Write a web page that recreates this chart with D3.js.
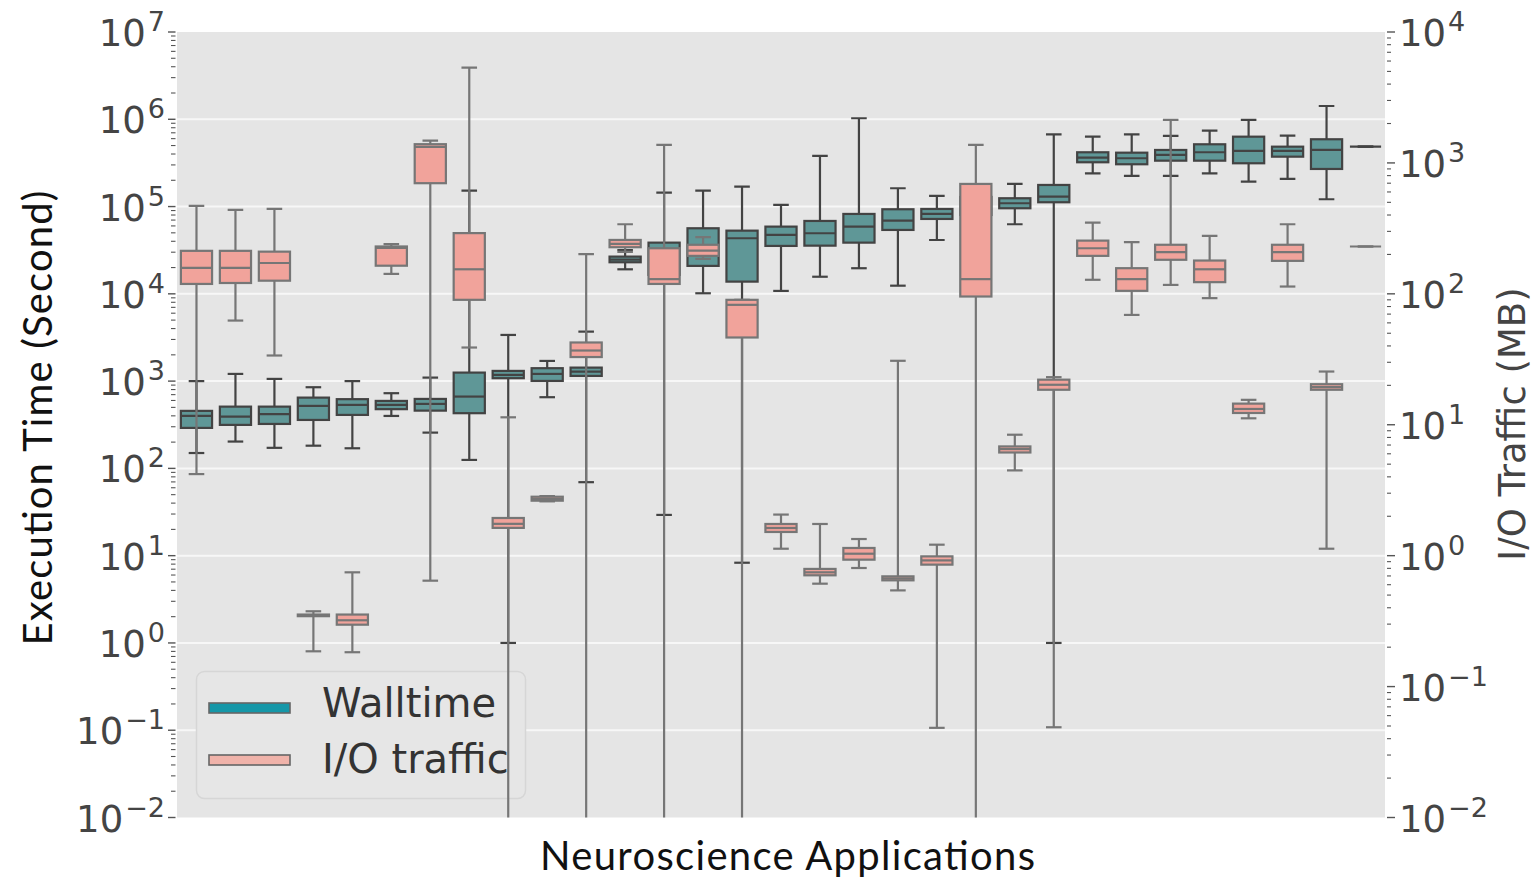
<!DOCTYPE html>
<html><head><meta charset="utf-8">
<script src="https://cdn.jsdelivr.net/npm/d3@7"></script>
<style>body{margin:0;background:#fff;} svg{display:block;}</style>
</head><body><svg id="c" width="1537" height="881"></svg>
<script>
// ---------------- data ----------------
const apps = d3.range(1, 32).map(i => "App " + i);

// Walltime (seconds, left axis): five-number summaries per application
const wallMin = [150, 203, 172, 182, 170, 399, 257, 125, 1.0, 654, 69.5, 19100, 29.3, 10150, 8.3, 10800, 15700, 19650, 12400, 41400, 54000, 62700, 1.0, 240600, 224200, 224200, 240600, 192800, 207200, 121200, 485400];
const wallQ1  = [291, 315, 323, 359, 410, 477, 459, 429, 1080, 1005, 1147, 23000, 16500, 20900, 13800, 35400, 35650, 38600, 53950, 72100, 80100, 95600, 112000, 321700, 305200, 335500, 335500, 313300, 372900, 269600, 485400];
const wallMed = [399, 392, 418, 520, 534, 534, 548, 665, 1178, 1209, 1284, 24650, 23200, 31800, 43350, 47300, 49450, 58900, 68930, 82300, 104000, 109100, 129900, 363100, 357600, 390000, 418800, 433500, 433500, 445000, 485400];
const wallQ3  = [456, 510, 510, 647, 621, 593, 625, 1252, 1309, 1406, 1428, 26700, 38600, 56400, 52960, 58900, 68400, 82300, 93100, 93860, 128800, 124500, 176800, 418800, 414300, 445000, 517100, 632000, 485400, 590200, 485400];
const wallMax = [1000, 1209, 1060, 851, 1000, 727, 1097, 152000, 3381, 1703, 3690, 31800, 144300, 152000, 169000, 104300, 380000, 1027000, 162000, 132200, 163000, 181500, 673000, 632000, 673000, 644000, 740300, 982000, 648600, 1420000, 485400];

// I/O traffic (MB, right axis)
const ioMin = [4.2, 62.5, 33.8, 0.186, 0.183, 142, 0.644, 38.9, 0.001, 2.6, 0.001, 209, 0.001, 185, 0.001, 1.13, 0.611, 0.805, 0.543, 0.0484, 0.001, 4.48, 0.0489, 128, 69, 117, 92.7, 11.2, 113.7, 1.13, 230];
const ioQ1  = [119, 121, 126, 0.345, 0.297, 164, 700, 90, 1.63, 2.63, 32.9, 227, 119, 195, 46.4, 1.517, 0.708, 0.932, 0.648, 0.854, 95.4, 6.14, 18.5, 195, 105.4, 182, 122.8, 12.3, 178.6, 18.5, 230];
const ioMed = [158, 158, 172, 0.35, 0.321, 224, 1325, 154, 1.75, 2.71, 36.9, 241, 129.5, 214, 82.4, 1.627, 0.746, 1.035, 0.67, 0.92, 129.5, 6.52, 20.2, 223, 129.5, 208, 154, 13.2, 208, 19.4, 230];
const ioQ3  = [213, 213, 210, 0.355, 0.355, 230, 1390, 291, 1.94, 2.82, 42.5, 258, 223, 237, 90, 1.746, 0.792, 1.145, 0.695, 0.988, 691, 6.83, 22.1, 255, 157, 237, 179.6, 14.5, 237, 20.4, 230];
const ioMax = [470, 438, 446, 0.376, 0.746, 240, 1480, 5340, 11.4, 2.85, 201, 340, 1372, 271, 90, 2.06, 1.746, 1.34, 30.8, 1.213, 1372, 8.39, 23.1, 350, 248, 2130, 277, 15.5, 340, 25.5, 230];

const leftExps  = [-2, -1, 0, 1, 2, 3, 4, 5, 6, 7];
const rightExps = [-2, -1, 0, 1, 2, 3, 4];
const seriesNames = ["Walltime", "I/O traffic"];
const xTitle = "Neuroscience Applications";
const yLeftTitle = "Execution Time (Second)";
const yRightTitle = "I/O Traffic (MB)";

// ---------------- layout ----------------
const svg = d3.select("#c");
const P = {x0: 177, x1: 1385, y0: 32, y1: 817.5};
const x = d3.scaleBand().domain(apps).range([P.x0, P.x1]).paddingInner(0.2).paddingOuter(0.1);
const yL = d3.scaleLog().domain([1e-2, 1e7]).range([P.y1, P.y0]);
const yR = d3.scaleLog().domain([1e-2, 1e4]).range([P.y1, P.y0]);

svg.append("rect").attr("x", P.x0).attr("y", P.y0).attr("width", P.x1 - P.x0).attr("height", P.y1 - P.y0).attr("fill", "#e5e5e5");
svg.append("clipPath").attr("id", "clip").append("rect").attr("x", P.x0).attr("y", P.y0).attr("width", P.x1 - P.x0).attr("height", P.y1 - P.y0);

// grid lines (left major)
svg.append("g").selectAll("line").data(leftExps.slice(1, -1)).join("line")
  .attr("x1", P.x0).attr("x2", P.x1)
  .attr("y1", d => yL(Math.pow(10, d))).attr("y2", d => yL(Math.pow(10, d)))
  .attr("stroke", "#f7f7f7").attr("stroke-width", 2);

// ticks
function ticks(scale, exps, xa, xb, xm) {
  const g = svg.append("g").attr("stroke", "#555").attr("stroke-width", 1.4);
  exps.forEach(e => {
    const v = Math.pow(10, e);
    g.append("line").attr("x1", xa).attr("x2", xb).attr("y1", scale(v)).attr("y2", scale(v));
    if (e < exps[exps.length - 1]) {
      for (let m = 2; m <= 9; m++) {
        const yy = scale(m * v);
        g.append("line").attr("x1", xm).attr("x2", xb).attr("y1", yy).attr("y2", yy).attr("stroke-width", 1.1);
      }
    }
  });
}
ticks(yL, leftExps, 168, 175.5, 171);
ticks(yR, rightExps, 1395, 1387, 1391);

function expLabel(sel) {
  sel.append("tspan").attr("font-size", 37).text("10");
  sel.append("tspan").attr("font-size", 27).attr("dx", 2).attr("dy", -15).text(d => (d < 0 ? "\u2212" + (-d) : d));
}
svg.append("g").selectAll("text").data(leftExps).join("text")
  .attr("x", 165).attr("y", d => yL(Math.pow(10, d)) + 14)
  .attr("text-anchor", "end").attr("font-family", "DejaVu Sans").attr("fill", "#444")
  .call(expLabel);
svg.append("g").selectAll("text").data(rightExps).join("text")
  .attr("x", 1399).attr("y", d => yR(Math.pow(10, d)) + 14)
  .attr("text-anchor", "start").attr("font-family", "DejaVu Sans").attr("fill", "#444")
  .call(expLabel);

// ---------------- box plots ----------------
function drawSeries(scale, mins, q1s, meds, q3s, maxs, fill, edge) {
  const g = svg.append("g").attr("clip-path", "url(#clip)");
  const bw = x.bandwidth();
  apps.forEach((a, i) => {
    const cx = x(a) + bw / 2;
    const yMin = scale(mins[i]), yQ1 = scale(q1s[i]), yMed = scale(meds[i]), yQ3 = scale(q3s[i]), yMax = scale(maxs[i]);
    g.append("line").attr("x1", cx).attr("x2", cx).attr("y1", yQ3).attr("y2", yMax).attr("stroke", edge).attr("stroke-width", 2.2);
    g.append("line").attr("x1", cx).attr("x2", cx).attr("y1", yQ1).attr("y2", yMin).attr("stroke", edge).attr("stroke-width", 2.2);
    [yMax, yMin].forEach(yy => g.append("line").attr("x1", cx - bw / 4).attr("x2", cx + bw / 4).attr("y1", yy).attr("y2", yy).attr("stroke", edge).attr("stroke-width", 2.2));
    g.append("rect").attr("x", x(a)).attr("width", bw).attr("y", yQ3).attr("height", Math.max(0, yQ1 - yQ3))
      .attr("fill", fill).attr("stroke", edge).attr("stroke-width", 2.2);
    g.append("line").attr("x1", x(a)).attr("x2", x(a) + bw).attr("y1", yMed).attr("y2", yMed).attr("stroke", edge).attr("stroke-width", 2.2);
  });
}
drawSeries(yL, wallMin, wallQ1, wallMed, wallQ3, wallMax, "#5f9797", "#434343");

// legend (belongs to the first axes; second axes is drawn over it)
const lg = svg.append("g");
lg.append("rect").attr("x", 196.5).attr("y", 671.5).attr("width", 329).attr("height", 127).attr("rx", 8)
  .attr("fill", "#e6e6e6").attr("stroke", "#d6d6d6").attr("stroke-width", 1.5);
const legColors = ["#1597a8", "#f0b3aa"];
seriesNames.forEach((n, i) => {
  const yy = 708 + i * 52;
  lg.append("rect").attr("x", 209).attr("y", yy - 5).attr("width", 81).attr("height", 10)
    .attr("fill", legColors[i]).attr("stroke", "#666").attr("stroke-width", 1.6);
  lg.append("text").attr("x", 322).attr("y", yy + 9 + i * 4).attr("font-family", "DejaVu Sans").attr("font-size", 40)
    .attr("fill", "#333").text(n);
});

drawSeries(yR, ioMin, ioQ1, ioMed, ioQ3, ioMax, "#f1a39b", "#767676");

// ---------------- titles ----------------
svg.append("text").attr("transform", "translate(52,418) rotate(-90)").attr("text-anchor", "middle")
  .attr("font-family", "Lato, 'Open Sans', sans-serif").attr("font-size", 40).attr("fill", "#111")
  .attr("textLength", 455).text(yLeftTitle);
svg.append("text").attr("x", 787.5).attr("y", 870).attr("text-anchor", "middle")
  .attr("font-family", "Lato, 'Open Sans', sans-serif").attr("font-size", 40).attr("fill", "#111")
  .attr("textLength", 495).text(xTitle);
svg.append("text").attr("transform", "translate(1525,424) rotate(-90)").attr("text-anchor", "middle")
  .attr("font-family", "DejaVu Sans").attr("font-size", 37).attr("fill", "#444").text(yRightTitle);
</script></body></html>
